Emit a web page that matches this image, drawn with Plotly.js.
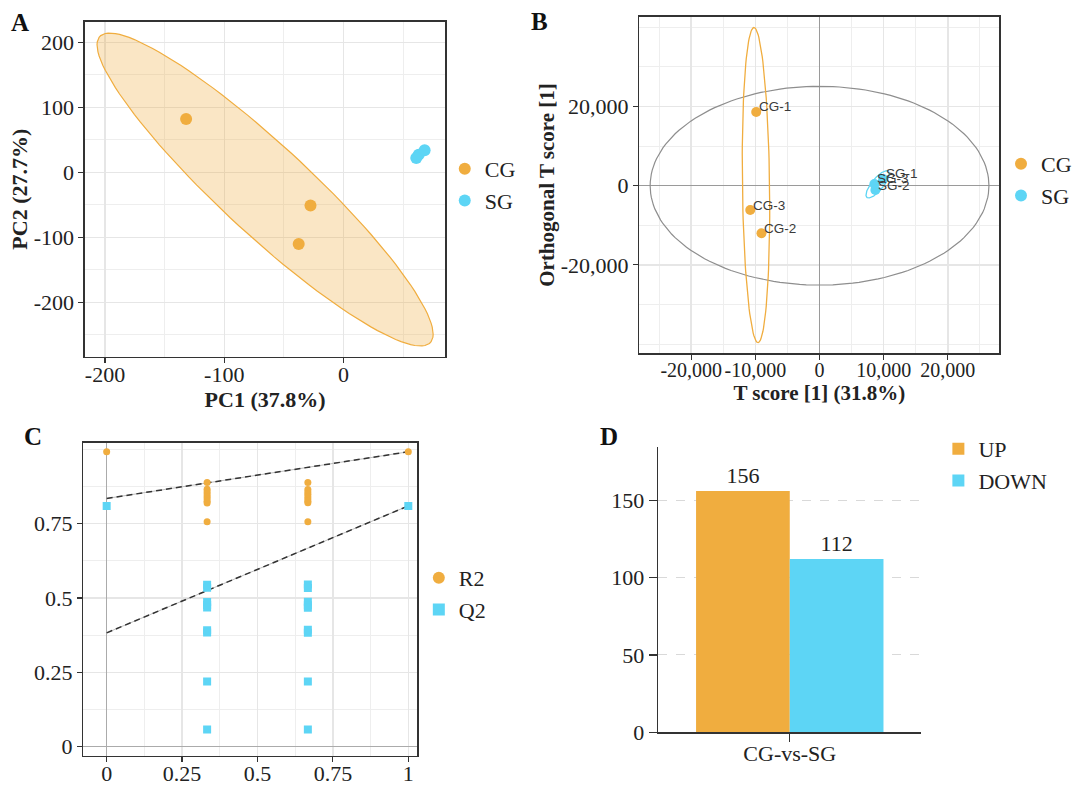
<!DOCTYPE html>
<html lang="en">

<head>
    <meta charset="UTF-8">
    <meta name="viewport" content="width=device-width, initial-scale=1.0">
    <script src="https://cdn.plot.ly/plotly-3.0.1.min.js"></script>
    <title>Score plots</title>
    <style>
        body { margin: 0; background: #fff; }
    </style>
</head>

<body>
    <div id="fig" style="width:1077px;height:790px;"></div>

    <script>
        var serif = 'Liberation Serif, Times New Roman, serif'
        var sans = 'Liberation Sans, Arial, sans-serif'
        var orange = '#F0AD3F'
        var cyan = '#5DD5F5'
        var ink = '#222222'

        // A: PCA scores
        var pcaCG_x = [-132, -27.7, -37.6]
        var pcaCG_y = [82, -51, -110]
        var pcaSG_x = [68, 63, 61]
        var pcaSG_y = [34, 27, 22]

        // B: OPLS-DA scores
        var oplsCG_names = ['CG-1', 'CG-2', 'CG-3']
        var oplsCG_t = [-9870, -9050, -10800]
        var oplsCG_to = [18610, -12020, -6140]
        var oplsSG_names = ['SG-1', 'SG-2', 'SG-3']
        var oplsSG_t = [9900, 8700, 8550]
        var oplsSG_to = [1700, -1100, 430]
        var hotellingT = 26400   // semi-axis along T score
        var hotellingTo = 25100  // semi-axis along orthogonal T score

        // C: permutation test
        var permR2_x = [0, 0.333, 0.333, 0.333, 0.333, 0.333, 0.333, 0.333, 0.333, 0.333,
            0.667, 0.667, 0.667, 0.667, 0.667, 0.667, 0.667, 0.667, 0.667, 1]
        var permR2_y = [0.992, 0.889, 0.866, 0.858, 0.850, 0.842, 0.834, 0.826, 0.820, 0.757,
            0.889, 0.865, 0.857, 0.849, 0.841, 0.833, 0.826, 0.821, 0.757, 0.992]
        var permQ2_x = permR2_x
        var permQ2_y = [0.81, 0.545, 0.535, 0.487, 0.477, 0.468, 0.392, 0.384, 0.219, 0.058,
            0.546, 0.534, 0.488, 0.476, 0.467, 0.393, 0.383, 0.219, 0.058, 0.81]
        var r2Intercept = 0.835
        var q2Intercept = 0.383

        // D: differential metabolites
        var degCats = ['CG-vs-SG']
        var upCounts = [156]
        var downCounts = [112]

        var r95 = Math.sqrt(5.991) // chi-square, 2 df, 95%

        function ellipse(xs, ys, r) {
            var n = xs.length
            var mx = 0, my = 0
            for (var i = 0; i < n; i++) { mx += xs[i] / n; my += ys[i] / n }
            var sxx = 0, syy = 0, sxy = 0
            for (var i = 0; i < n; i++) {
                var dx = xs[i] - mx, dy = ys[i] - my
                sxx += dx * dx; syy += dy * dy; sxy += dx * dy
            }
            sxx /= (n - 1); syy /= (n - 1); sxy /= (n - 1)
            var l11 = Math.sqrt(sxx)
            var l21 = sxy / l11
            var l22 = Math.sqrt(syy - l21 * l21)
            var ex = [], ey = []
            for (var k = 0; k <= 120; k++) {
                var t = 2 * Math.PI * k / 120
                ex.push(mx + r * l11 * Math.cos(t))
                ey.push(my + r * (l21 * Math.cos(t) + l22 * Math.sin(t)))
            }
            return { x: ex, y: ey }
        }

        function circle(a, b) {
            var ex = [], ey = []
            for (var k = 0; k <= 160; k++) {
                var t = 2 * Math.PI * k / 160
                ex.push(a * Math.cos(t))
                ey.push(b * Math.sin(t))
            }
            return { x: ex, y: ey }
        }

        function frameAxis(extra) {
            return Object.assign({
                showline: true, mirror: true, linecolor: '#333', linewidth: 1.3,
                ticks: 'outside', ticklen: 5, tickwidth: 1.2, tickcolor: '#333',
                showgrid: true, gridcolor: '#e6e6e6', gridwidth: 1.5,
                zeroline: false, automargin: false, tickangle: 0,
                tickfont: { family: serif, size: 22, color: ink },
                tickmode: 'array'
            }, extra)
        }

        var ellA = ellipse(pcaCG_x, pcaCG_y, r95)
        var ellB_CG = ellipse(oplsCG_t, oplsCG_to, r95)
        var ellB_SG = ellipse(oplsSG_t, oplsSG_to, r95)
        var t2 = circle(hotellingT, hotellingTo)

        var traces = [
            // A
            {
                x: ellA.x, y: ellA.y, xaxis: 'x', yaxis: 'y', mode: 'lines', fill: 'toself',
                fillcolor: 'rgba(240,173,63,0.3)', line: { color: orange, width: 1.2 },
                showlegend: false, hoverinfo: 'skip'
            },
            {
                x: pcaCG_x, y: pcaCG_y, xaxis: 'x', yaxis: 'y', mode: 'markers', name: 'CG',
                marker: { color: orange, size: 12 }, legend: 'legend'
            },
            {
                x: pcaSG_x, y: pcaSG_y, xaxis: 'x', yaxis: 'y', mode: 'markers', name: 'SG',
                marker: { color: cyan, size: 12 }, legend: 'legend'
            },
            // B
            {
                x: t2.x, y: t2.y, xaxis: 'x2', yaxis: 'y2', mode: 'lines',
                line: { color: '#8e8e8e', width: 1.2 }, showlegend: false, hoverinfo: 'skip'
            },
            {
                x: ellB_CG.x, y: ellB_CG.y, xaxis: 'x2', yaxis: 'y2', mode: 'lines',
                line: { color: orange, width: 1.3 }, showlegend: false, hoverinfo: 'skip'
            },
            {
                x: ellB_SG.x, y: ellB_SG.y, xaxis: 'x2', yaxis: 'y2', mode: 'lines',
                line: { color: cyan, width: 1.3 }, showlegend: false, hoverinfo: 'skip'
            },
            {
                x: oplsCG_t, y: oplsCG_to, xaxis: 'x2', yaxis: 'y2', mode: 'markers', name: 'CG',
                marker: { color: orange, size: 10 }, legend: 'legend2'
            },
            {
                x: oplsSG_t, y: oplsSG_to, xaxis: 'x2', yaxis: 'y2', mode: 'markers', name: 'SG',
                marker: { color: cyan, size: 10 }, legend: 'legend2'
            },
            // C
            {
                x: [0, 1], y: [r2Intercept, permR2_y[permR2_y.length - 1]], xaxis: 'x3', yaxis: 'y3',
                mode: 'lines', line: { color: '#bdbdbd', width: 1 }, showlegend: false, hoverinfo: 'skip'
            },
            {
                x: [0, 1], y: [r2Intercept, permR2_y[permR2_y.length - 1]], xaxis: 'x3', yaxis: 'y3',
                mode: 'lines', line: { color: '#333', width: 1.5, dash: '6px,4px' }, showlegend: false, hoverinfo: 'skip'
            },
            {
                x: [0, 1], y: [q2Intercept, permQ2_y[permQ2_y.length - 1]], xaxis: 'x3', yaxis: 'y3',
                mode: 'lines', line: { color: '#bdbdbd', width: 1 }, showlegend: false, hoverinfo: 'skip'
            },
            {
                x: [0, 1], y: [q2Intercept, permQ2_y[permQ2_y.length - 1]], xaxis: 'x3', yaxis: 'y3',
                mode: 'lines', line: { color: '#333', width: 1.5, dash: '6px,4px' }, showlegend: false, hoverinfo: 'skip'
            },
            {
                x: permR2_x, y: permR2_y, xaxis: 'x3', yaxis: 'y3', mode: 'markers', name: 'R2',
                marker: { color: orange, size: 7, symbol: 'circle' }, legend: 'legend3'
            },
            {
                x: permQ2_x, y: permQ2_y, xaxis: 'x3', yaxis: 'y3', mode: 'markers', name: 'Q2',
                marker: { color: cyan, size: 8, symbol: 'square' }, legend: 'legend3'
            },
            // D
            {
                type: 'bar', x: degCats, y: upCounts, name: 'UP', xaxis: 'x4', yaxis: 'y4',
                marker: { color: orange }, text: upCounts.map(String), textposition: 'outside',
                textfont: { family: serif, size: 22, color: ink }, cliponaxis: false, legend: 'legend4'
            },
            {
                type: 'bar', x: degCats, y: downCounts, name: 'DOWN', xaxis: 'x4', yaxis: 'y4',
                marker: { color: cyan }, text: downCounts.map(String), textposition: 'outside',
                textfont: { family: serif, size: 22, color: ink }, cliponaxis: false, legend: 'legend4'
            }
        ]

        var legendBase = {
            font: { family: serif, size: 22, color: ink }, bgcolor: 'rgba(0,0,0,0)',
            xanchor: 'left', yanchor: 'middle', itemsizing: 'constant', tracegroupgap: 0
        }

        var annotations = []
        var letters = [['A', 20, 22], ['B', 541, 21], ['C', 33, 437], ['D', 611, 437]]
        letters.forEach(function (l) {
            annotations.push({
                text: '<b>' + l[0] + '</b>', xref: 'paper', yref: 'paper', x: l[1] / 1077, y: 1 - l[2] / 790,
                xanchor: 'center', yanchor: 'middle', showarrow: false,
                font: { family: serif, size: 25, color: '#111' }
            })
        })
        function addLabels(names, xs, ys) {
            for (var i = 0; i < names.length; i++) {
                annotations.push({
                    text: names[i], x: xs[i], y: ys[i], xref: 'x2', yref: 'y2', showarrow: false,
                    xanchor: 'left', yanchor: 'middle', xshift: 1, yshift: 5,
                    font: { family: sans, size: 13.5, color: '#3a3a3a' }
                })
            }
        }
        addLabels(oplsCG_names, oplsCG_t, oplsCG_to)
        addLabels(oplsSG_names, oplsSG_t, oplsSG_to)

        var layout = {
            width: 1077, height: 790,
            margin: { l: 0, r: 0, t: 0, b: 0 },
            paper_bgcolor: '#fff', plot_bgcolor: '#fff',
            font: { family: serif, color: ink },
            barmode: 'group', bargap: 0.288, bargroupgap: 0,
            xaxis: frameAxis({
                domain: [0.0789, 0.4148], range: [-217, 85.5], anchor: 'y', ticklabelstandoff: -7,
                tickvals: [-200, -100, 0], ticktext: ['-200', '-100', '0'],
                minor: { tickmode: 'linear', tick0: 0, dtick: 50, showgrid: true, gridcolor: '#eeeeee', gridwidth: 1, ticks: '' },
                title: { text: '<b>PC1 (37.8%)</b>', font: { family: serif, size: 22, color: ink }, standoff: 0 }
            }),
            yaxis: frameAxis({
                domain: [0.5485, 0.9725], range: [-283.5, 231.8], anchor: 'x',
                tickvals: [-200, -100, 0, 100, 200], ticktext: ['-200', '-100', '0', '100', '200'],
                minor: { tickmode: 'linear', tick0: 0, dtick: 50, showgrid: true, gridcolor: '#eeeeee', gridwidth: 1, ticks: '' },
                title: { text: '<b>PC2 (27.7%)</b>', font: { family: serif, size: 22, color: ink }, standoff: 0 }
            }),
            xaxis2: frameAxis({
                domain: [0.5952, 0.9306], range: [-28100, 28040], anchor: 'y2', ticklabelstandoff: -7,
                tickvals: [-20000, -10000, 0, 10000, 20000],
                ticktext: ['-20,000', '-10,000', '0', '10,000', '20,000'],
                tickfont: { family: serif, size: 20, color: ink },
                minor: { tickmode: 'linear', tick0: 0, dtick: 5000, showgrid: true, gridcolor: '#eeeeee', gridwidth: 1, ticks: '' },
                zeroline: true, zerolinecolor: '#9a9a9a', zerolinewidth: 1.6,
                title: { text: '<b>T score [1] (31.8%)</b>', font: { family: serif, size: 21, color: ink }, standoff: 0 }
            }),
            yaxis2: frameAxis({
                domain: [0.5528, 0.9789], range: [-42320, 42680], anchor: 'x2',
                tickvals: [-20000, 0, 20000], ticktext: ['-20,000', '0', '20,000'],
                minor: { tickmode: 'linear', tick0: 0, dtick: 10000, showgrid: true, gridcolor: '#eeeeee', gridwidth: 1, ticks: '' },
                zeroline: true, zerolinecolor: '#9a9a9a', zerolinewidth: 1.6,
                title: { text: '<b>Orthogonal T score [1]</b>', font: { family: serif, size: 21, color: ink }, standoff: 0 }
            }),
            xaxis3: frameAxis({
                domain: [0.0775, 0.3886], range: [-0.0777, 1.03], anchor: 'y3', ticklabelstandoff: -7,
                tickvals: [0, 0.25, 0.5, 0.75, 1], ticktext: ['0', '0.25', '0.5', '0.75', '1'],
                minor: { tickmode: 'linear', tick0: 0, dtick: 0.125, showgrid: true, gridcolor: '#eeeeee', gridwidth: 1, ticks: '' },
                zeroline: true, zerolinecolor: '#ababab', zerolinewidth: 1.3
            }),
            yaxis3: frameAxis({
                domain: [0.0434, 0.4396], range: [-0.0303, 1.0225], anchor: 'x3',
                tickvals: [0, 0.25, 0.5, 0.75], ticktext: ['0', '0.25', '0.5', '0.75'],
                minor: { tickmode: 'linear', tick0: 0, dtick: 0.125, showgrid: true, gridcolor: '#eeeeee', gridwidth: 1, ticks: '' },
                zeroline: true, zerolinecolor: '#ababab', zerolinewidth: 1.3
            }),
            xaxis4: {
                domain: [0.6128, 0.8579], anchor: 'y4', type: 'category',
                showline: true, linecolor: '#333', linewidth: 1.5,
                ticks: 'outside', ticklen: 8, tickwidth: 1.3, tickcolor: '#333', ticklabelstandoff: -7,
                showgrid: false, zeroline: false, automargin: false,
                tickfont: { family: serif, size: 22, color: ink }
            },
            yaxis4: {
                domain: [0.0730, 0.4338], anchor: 'x4', range: [0, 184.2],
                tickmode: 'array', tickvals: [0, 50, 100, 150], ticktext: ['0', '50', '100', '150'],
                showline: true, linecolor: '#333', linewidth: 1.5,
                ticks: 'outside', ticklen: 8, tickwidth: 1.3, tickcolor: '#333',
                showgrid: true, gridcolor: '#d9d9d9', gridwidth: 1, griddash: 'dash',
                zeroline: false, automargin: false,
                tickfont: { family: serif, size: 22, color: ink }
            },
            legend: Object.assign({}, legendBase, { x: 446 / 1077, y: 1 - 185 / 790 }),
            legend2: Object.assign({}, legendBase, { x: 1004 / 1077, y: 1 - 180 / 790 }),
            legend3: Object.assign({}, legendBase, { x: 420 / 1077, y: 1 - 594 / 790 }),
            legend4: Object.assign({}, legendBase, { x: 941 / 1077, y: 1 - 465 / 790 }),
            annotations: annotations
        }

        Plotly.newPlot('fig', traces, layout, { displayModeBar: false, staticPlot: true })
    </script>
</body>

</html>
